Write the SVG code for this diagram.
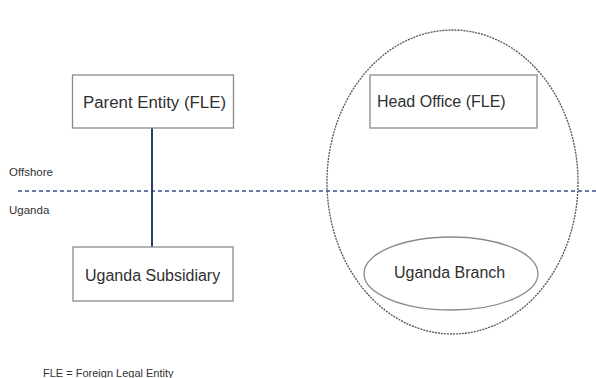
<svg xmlns="http://www.w3.org/2000/svg" width="596" height="378" viewBox="0 0 596 378">
<style>
.box{fill:#fff;stroke:#8a8a8a;stroke-width:1.3}
.lbl{font-family:"Liberation Sans",Arial,sans-serif;font-size:16px;fill:#2f2f2f}
.small{font-family:"Liberation Sans",Arial,sans-serif;font-size:11.5px;fill:#333}
</style>
<rect width="596" height="378" fill="#fff"/>
<g id="region-ellipse">
<ellipse cx="452.5" cy="182" rx="125.5" ry="152" fill="none" stroke="#555" stroke-width="1.3" stroke-dasharray="2 1"/>
</g>
<g id="connectors">
<line x1="18" y1="191" x2="596" y2="191" stroke="#3b4d86" stroke-width="1.6" stroke-dasharray="4 3"/>
<line x1="152" y1="128" x2="152" y2="247" stroke="#2e3d70" stroke-width="2"/>
</g>
<g id="parent-entity">
<rect class="box" x="72.5" y="75" width="161" height="53"/>
<text class="lbl" x="83" y="108" textLength="143" lengthAdjust="spacingAndGlyphs">Parent Entity (FLE)</text>
</g>
<g id="uganda-subsidiary">
<rect class="box" x="73" y="247" width="160" height="54"/>
<text class="lbl" x="85" y="281">Uganda Subsidiary</text>
</g>
<g id="head-office">
<rect class="box" x="370" y="75" width="167" height="53"/>
<text class="lbl" x="377" y="107">Head Office (FLE)</text>
</g>
<g id="uganda-branch">
<ellipse cx="451" cy="273.5" rx="87" ry="36.5" fill="none" stroke="#8a8a8a" stroke-width="1.3"/>
<text class="lbl" x="394" y="278">Uganda Branch</text>
</g>
<g id="labels">
<text class="small" x="9" y="176">Offshore</text>
<text class="small" x="9" y="214">Uganda</text>
<text class="small" x="43" y="377" style="font-size:11px">FLE = Foreign Legal Entity</text>
</g>
</svg>
